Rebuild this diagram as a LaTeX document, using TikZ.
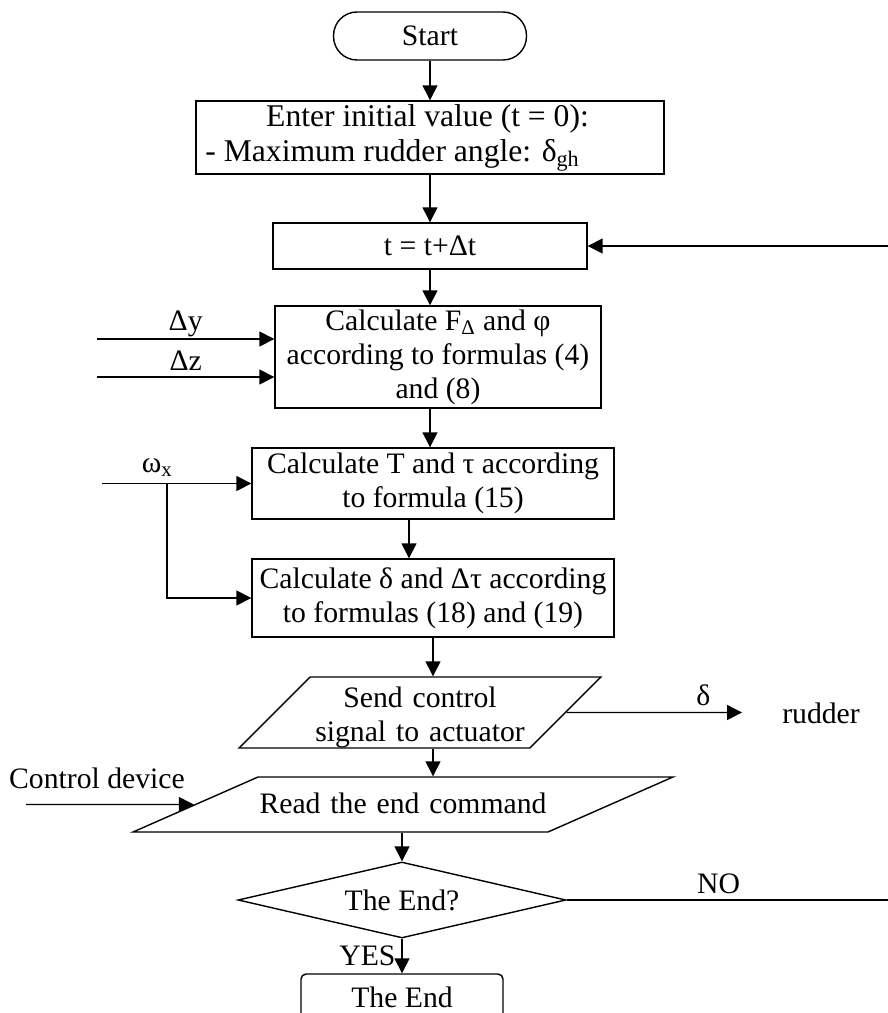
\documentclass[tikz,border=0pt]{standalone}
\usepackage{fontspec}
\setmainfont{Liberation Serif}
\usetikzlibrary{shapes.geometric,arrows.meta}

\begin{document}
\begin{tikzpicture}[x=0.02cm,y=-0.02cm,line width=0.8pt,
  font=\fontsize{16.9}{19.4}\selectfont,
  box/.style={draw,rectangle,align=center,inner sep=1pt},
  term/.style={draw,rectangle,align=center},
  io/.style={draw,trapezium,align=center,inner sep=0pt},
  arr/.style={-{Triangle[length=0.3cm,width=0.3cm]}}]
\useasboundingbox (0,0) rectangle (888,1013);
\clip (0,0) rectangle (888,1013);
\node[term,rounded corners=0.47cm,minimum width=3.86cm,minimum height=0.96cm](start) at (430,36){Start};
\node[box,minimum width=9.36cm,minimum height=1.46cm,font=\fontsize{18}{20}\selectfont](enter) at (430,137.5)
     {Enter initial value (t = 0):\hspace*{0.1cm}\\- Maximum rudder angle: δ\textsubscript{gh}\hspace*{1.5cm}};
\node[box,minimum width=6.28cm,minimum height=0.92cm](tstep) at (430,246){t = t+Δt};
\node[box,minimum width=6.52cm,minimum height=2.04cm](calcf) at (438,357)
     {Calculate F\textsubscript{Δ} and φ\\according to formulas (4)\\and (8)};
\node[box,minimum width=7.24cm,minimum height=1.42cm](calct) at (433,483.5)
     {Calculate T and τ according\\to formula (15)};
\node[box,minimum width=7.24cm,minimum height=1.56cm](calcd) at (433,598)
     {Calculate δ and Δτ according\\to formulas (18) and (19)};
\node[io,trapezium left angle=45,trapezium right angle=135,text width=4.4cm,text height=0.6cm,text depth=0.82cm](send) at (420,712.5)
     {Send control\\signal to actuator};
\node[io,trapezium left angle=23.75,trapezium right angle=156.25,text width=5.8cm,text height=0.72cm,text depth=0.38cm](read) at (403,804.5)
     {Read the end command};
\node[draw,diamond,aspect=4.3,inner sep=0pt,minimum width=6.56cm,minimum height=1.52cm](decide) at (402,900){The End?};
\node[term,rounded corners=0.1cm,minimum width=4.04cm,minimum height=0.92cm](theend) at (402,997){The End};
\node(rudder) at (821,713){rudder};
\node(device) at (97,778){Control device};
\coordinate(loopin) at (890,246);
\coordinate(dyin) at (97,339);
\coordinate(dzin) at (97,377);
\coordinate(wxin) at (102,483.5);
\coordinate(wxbr) at (167,483.5);
\coordinate(deltaout) at (742,712.5);
\coordinate(devin) at (26,804.5);
\coordinate(noend) at (890,900);
\draw[arr](start)--(enter);
\draw[arr](enter)--(tstep);
\draw[arr](tstep)--(tstep.south |- calcf.north);
\draw[arr](calcf.south -| tstep.south)--(tstep.south |- calct.north);
\draw[arr]([xshift=-0.48cm]calct.south)--([xshift=-0.48cm]calct.south |- calcd.north);
\draw[arr](calcd)--(calcd.south |- send.north);
\draw[arr](calcd.south |- send.south)--(calcd.south |- read.north);
\draw[arr](decide.north |- read.south)--(decide);
\draw[arr](decide)--node[left]{YES}(theend);
\draw(decide.east)--node[above,pos=0.47]{NO}(noend);
\draw[arr](loopin)--(tstep);
\draw[arr](dyin)--node[above,inner sep=1pt]{Δy}(dyin -| calcf.west);
\draw[arr](dzin)--node[above]{Δz}(dzin -| calcf.west);
\draw[arr](wxin)--node[above,pos=0.37]{ω\textsubscript{x}}(calct);
\draw[arr](wxbr)|-(calcd);
\draw[arr](send.east)--node[above,pos=0.78]{δ}(deltaout);
\draw[arr](devin)--(read.west);
\end{tikzpicture}
\end{document}
